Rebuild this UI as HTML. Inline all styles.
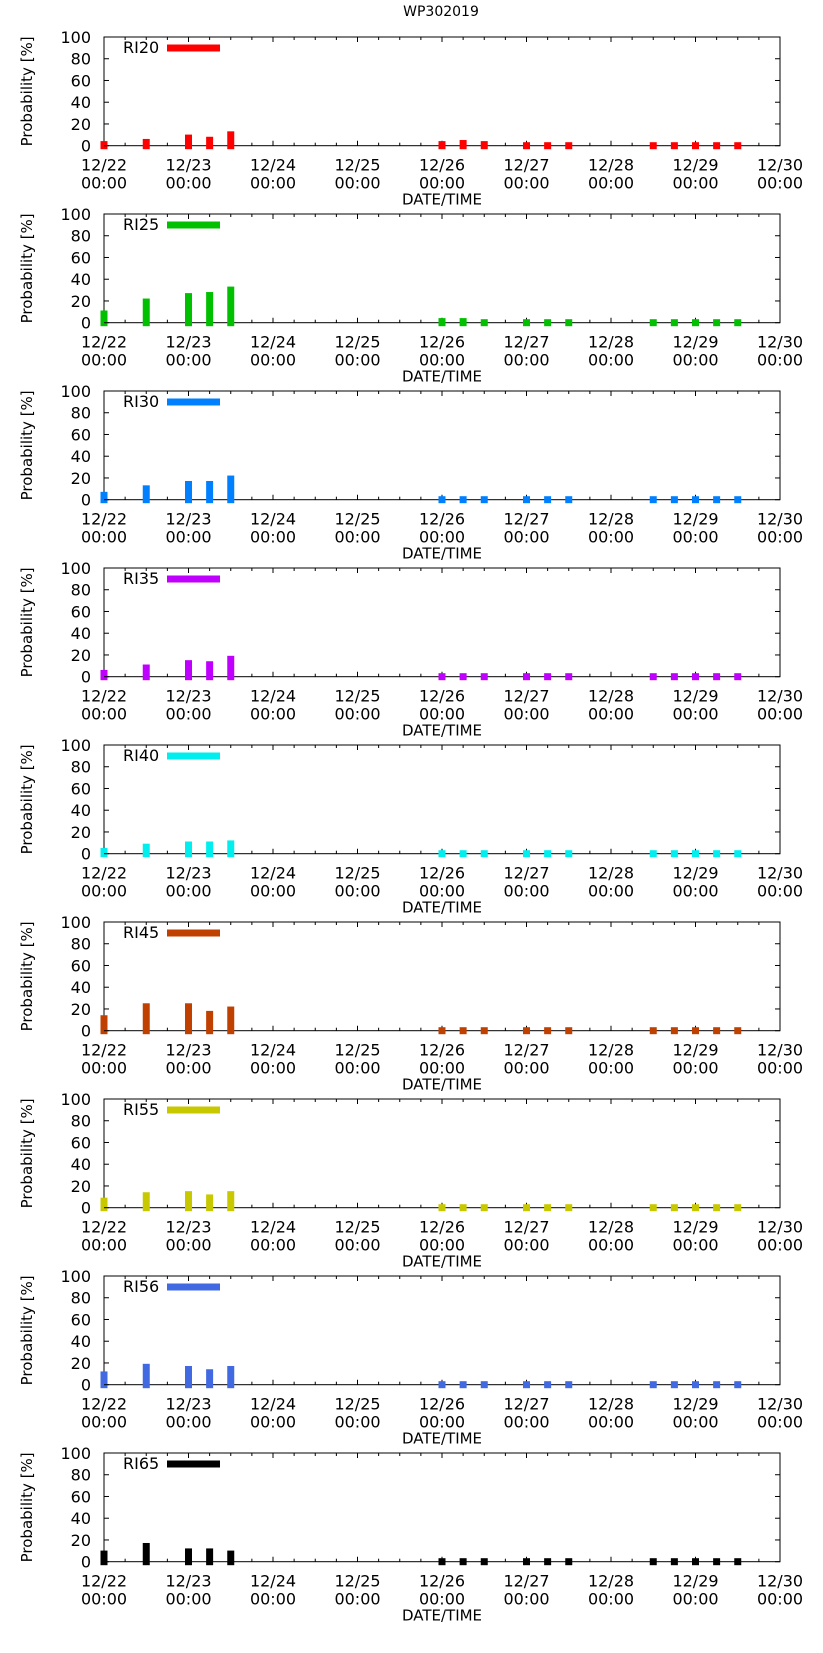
<!DOCTYPE html>
<html><head><meta charset="utf-8"><style>
html,body{margin:0;padding:0;background:#fff;}
svg{display:block;font-family:"DejaVu Sans","Liberation Sans",sans-serif;}
</style></head><body>
<svg id="chart" width="823" height="1653" viewBox="0 0 823 1653" xmlns="http://www.w3.org/2000/svg">
<text x="441" y="16" font-size="14" text-anchor="middle">WP302019</text>
</svg>
<script>
// hours since 12/22 00:00
const hours = [0,12,24,30,36,96,102,108,120,126,132,156,162,168,174,180];
const seriesNames = ["RI20","RI25","RI30","RI35","RI40","RI45","RI55","RI56","RI65"];
const seriesColors = ["#ff0000","#00c000","#0080ff","#c000ff","#00eeee","#c04000","#c8c800","#4169e1","#000000"];
const ri20 = [1,3,7,5,10,1,2,1,0,0,0,0,0,0,0,0];
const ri25 = [8,19,24,25,30,1,1,0,0,0,0,0,0,0,0,0];
const ri30 = [4,10,14,14,19,0,0,0,0,0,0,0,0,0,0,0];
const ri35 = [3,8,12,11,16,0,0,0,0,0,0,0,0,0,0,0];
const ri40 = [2,6,8,8,9,0,0,0,0,0,0,0,0,0,0,0];
const ri45 = [11,22,22,15,19,0,0,0,0,0,0,0,0,0,0,0];
const ri55 = [6,11,12,9,12,0,0,0,0,0,0,0,0,0,0,0];
const ri56 = [9,16,14,11,14,0,0,0,0,0,0,0,0,0,0,0];
const ri65 = [7,14,9,9,7,0,0,0,0,0,0,0,0,0,0,0];
const seriesValues = [ri20,ri25,ri30,ri35,ri40,ri45,ri55,ri56,ri65];
const yTicks = [0,20,40,60,80,100];
const xTickLabels = ["12/22","12/23","12/24","12/25","12/26","12/27","12/28","12/29","12/30"];

const NS = "http://www.w3.org/2000/svg";
const svg = document.getElementById("chart");
const L = 104, R = 780, PH = 108.7, PITCH = 177, TOP0 = 37, HMAX = 192;
function xs(h){ return L + (R - L) * h / HMAX; }
function mk(tag, attrs, parent){
  const e = document.createElementNS(NS, tag);
  for (const k in attrs) e.setAttribute(k, attrs[k]);
  parent.appendChild(e);
  return e;
}
seriesNames.forEach((name, i) => {
  const T = TOP0 + PITCH * i;
  const B = T + PH;
  const ys = v => B - PH * v / 100;
  const g = mk("g", {}, svg);
  
  
  // frame
  const fr = mk("rect", {x: L, y: T, width: R - L, height: PH, fill: "none", stroke: "#000", "stroke-width": 1}, g);
  
  
  // minor x ticks every 6h
  for (let h = 6; h < HMAX; h += 6) {
    const x = xs(h);
    const len = (h % 24 === 0) ? 5 : 3;
    mk("line", {x1: x, x2: x, y1: B, y2: B - len, stroke: "#000"}, g);
    mk("line", {x1: x, x2: x, y1: T, y2: T + len, stroke: "#000"}, g);
  }
  // bars (drawn over ticks)
  seriesValues[i].forEach((v, j) => {
    const x = xs(hours[j]);
    const r = mk("rect", {x: x - 3.5, y: ys(v) - 3.5, width: 7, height: (B + 3.5) - (ys(v) - 3.5), fill: seriesColors[i]}, g);
    
    
  });
  // y ticks + labels
  yTicks.forEach(t => {
    const y = ys(t);
    mk("line", {x1: L, x2: L + 5, y1: y, y2: y, stroke: "#000"}, g);
    mk("line", {x1: R, x2: R - 5, y1: y, y2: y, stroke: "#000"}, g);
    const tx = mk("text", {x: 91, y: y + 6, "font-size": 16, "text-anchor": "end"}, g);
    tx.textContent = t;
    
    
  });
  // x tick labels
  xTickLabels.forEach((lab, k) => {
    const x = xs(k * 24);
    const t1 = mk("text", {x: x, y: B + 25, "font-size": 16, "text-anchor": "middle"}, g);
    t1.textContent = lab;
    
    
    const t2 = mk("text", {x: x, y: B + 43, "font-size": 16, "text-anchor": "middle"}, g);
    t2.textContent = "00:00";
    
    
  });
  // axis titles
  const xt = mk("text", {x: 442, y: B + 59, "font-size": 15, "text-anchor": "middle"}, g);
  xt.textContent = "DATE/TIME";
  
  
  const cy = T + PH / 2;
  const yt = mk("text", {x: 0, y: 0, "font-size": 15, "text-anchor": "middle", transform: "translate(32," + cy + ") rotate(-90)"}, g);
  yt.textContent = "Probability [%]";
  
  
  // legend
  const lt = mk("text", {x: 123, y: T + 16, "font-size": 16}, g);
  lt.textContent = name;
  
  
  const ls = mk("rect", {x: 167, y: T + 7.5, width: 53, height: 7, fill: seriesColors[i]}, g);
  
  
});
</script>
</body></html>
